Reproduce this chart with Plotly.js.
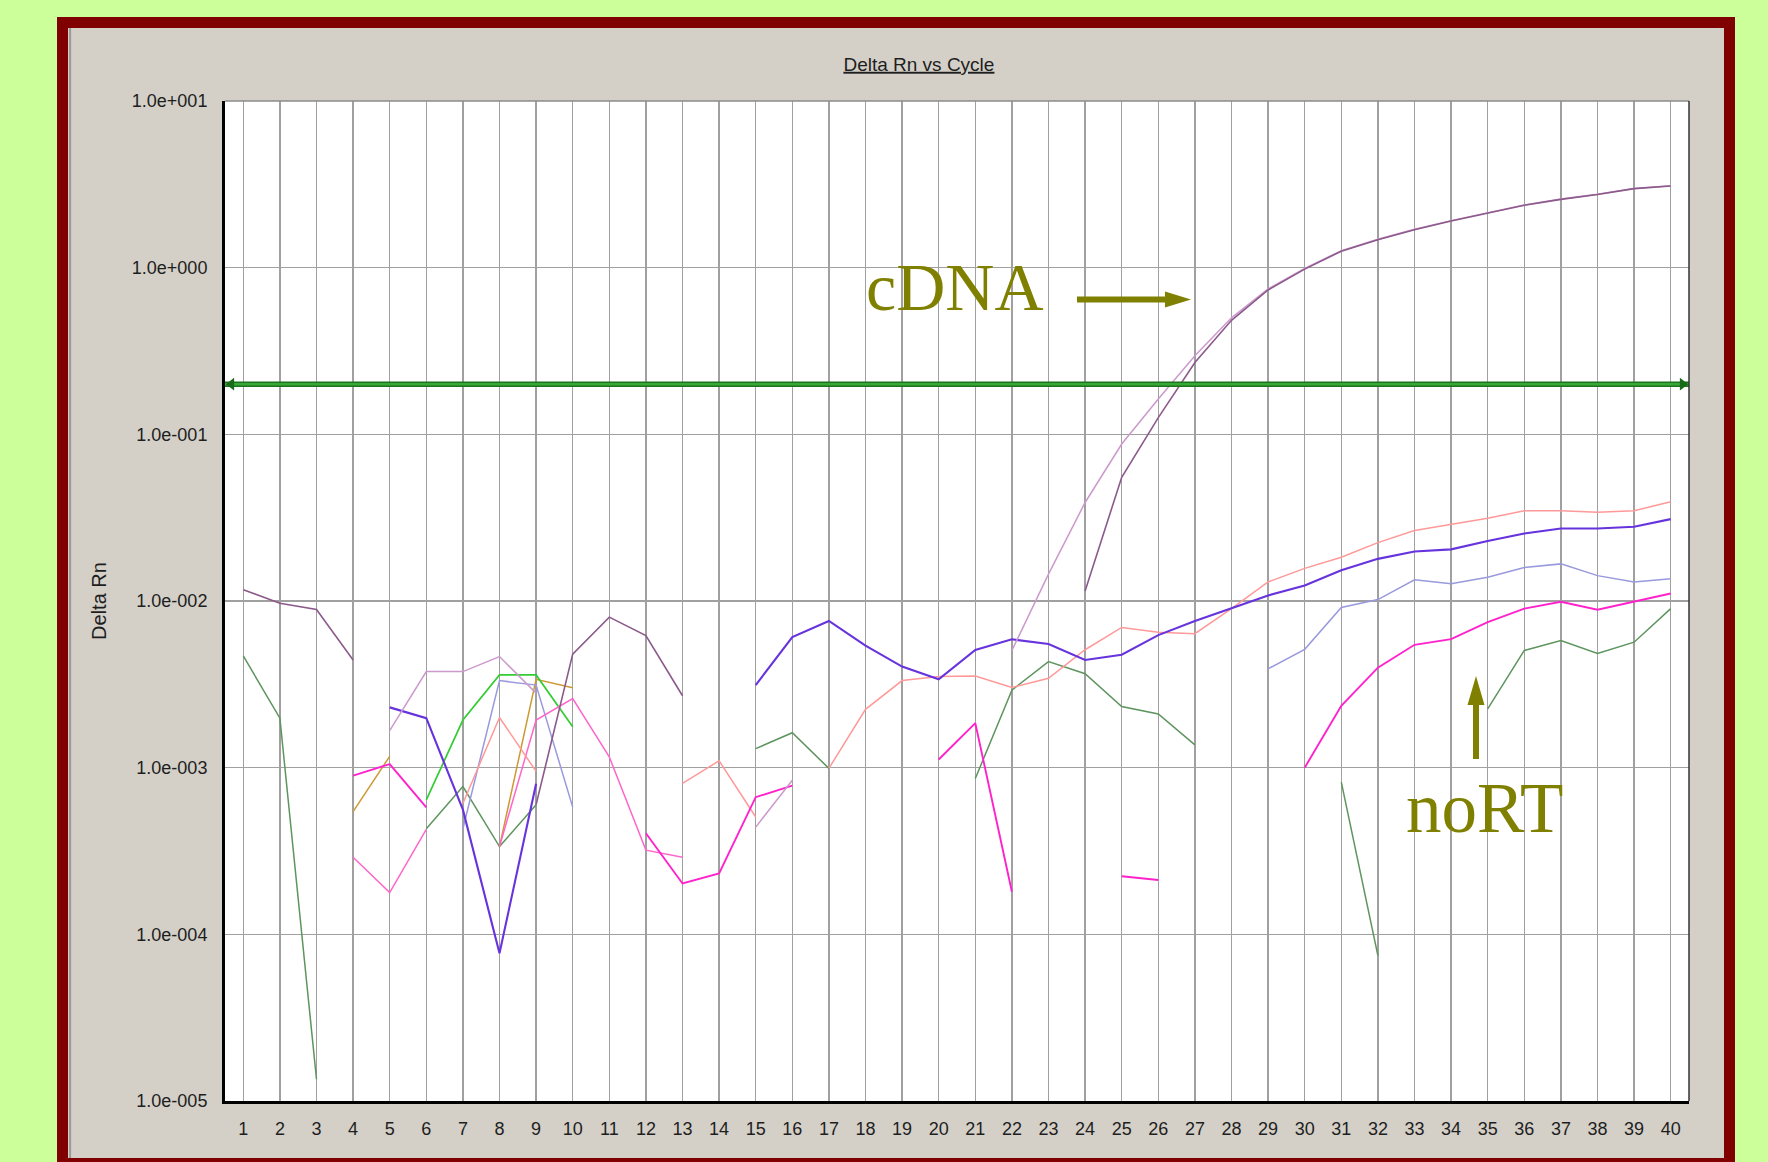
<!DOCTYPE html>
<html><head><meta charset="utf-8">
<script src="https://cdn.plot.ly/plotly-3.0.1.min.js"></script>
<style>html,body{margin:0;padding:0;background:#CCFF99;overflow:hidden;} #chart{width:1768px;height:1162px;}</style>
</head><body><div id="chart"></div>
<script>
// ---- data (Delta Rn per cycle; null = not drawn, e.g. negative on log scale) ----
const cycles = [1,2,3,4,5,6,7,8,9,10,11,12,13,14,15,16,17,18,19,20,
                21,22,23,24,25,26,27,28,29,30,31,32,33,34,35,36,37,38,39,40];

const cdnaDark = [0.0117, 0.0097, 0.0089, 0.00443, null, null, null, null, 0.0006, 0.0048,
  0.008, 0.0062, 0.0027, null, null, null, null, null, null, null,
  null, null, null, 0.0115, 0.0552, 0.126, 0.27, 0.483, 0.735, 0.98,
  1.255, 1.47, 1.69, 1.905, 2.13, 2.37, 2.57, 2.75, 2.98, 3.09];

const cdnaLight = [null, null, null, null, 0.00167, 0.00377, 0.00377, 0.00464, 0.0028, null,
  null, null, null, null, 0.00044, 0.00084, null, null, null, null,
  null, 0.00505, 0.0145, 0.039, 0.0875, 0.163, 0.296, 0.50, 0.745, 0.99,
  1.265, 1.48, 1.70, 1.915, 2.14, 2.38, 2.585, 2.76, 2.99, 3.105];

const blueViolet = [null, null, null, null, 0.0023, 0.00198, 0.00056, 0.000077, 0.0008, null,
  null, null, null, null, 0.00313, 0.00607, 0.00759, 0.0054, 0.00404, 0.00339,
  0.00508, 0.00589, 0.00552, 0.00443, 0.00476, 0.00624, 0.00758, 0.009, 0.0108, 0.0124,
  0.0153, 0.0179, 0.0198, 0.0204, 0.0229, 0.0254, 0.0272, 0.0272, 0.0279, 0.031];

const salmon = [null, null, null, null, null, null, 0.00061, 0.002, 0.00095, null,
  null, null, 0.000805, 0.0011, 0.000506, null, 0.00099, 0.00224, 0.00333, 0.00352,
  0.00355, 0.00303, 0.00344, 0.0051, 0.00694, 0.0065, 0.00637, 0.009, 0.013, 0.0157,
  0.0183, 0.0224, 0.0265, 0.0287, 0.0314, 0.0348, 0.0348, 0.0341, 0.0348, 0.0394];

const darkGreen = [0.00468, 0.00198, 0.0000135, null, null, 0.00043, 0.00077, 0.000336, 0.0006, null,
  null, null, null, null, 0.0013, 0.00162, 0.00099, null, null, null,
  0.00086, 0.00292, 0.00433, 0.00366, 0.00233, 0.0021, 0.00137, null, null, null,
  0.00082, 0.0000745, null, null, 0.00225, 0.00505, 0.0058, 0.00485, 0.00566, 0.009];

const brightGreen = [null, null, null, null, null, 0.00064, 0.00193, 0.0036, 0.0036, 0.00176,
  null, null, null, null, null, null, null, null, null, null,
  null, null, null, null, null, null, null, null, null, null,
  null, null, null, null, null, null, null, null, null, null];

const lavender = [null, null, null, null, null, null, 0.00043, 0.00333, 0.00313, 0.00058,
  null, null, null, null, null, null, null, null, null, null,
  null, null, null, null, null, null, null, null, 0.00392, 0.00513,
  0.00914, 0.0102, 0.0134, 0.0127, 0.0139, 0.0159, 0.0167, 0.0142, 0.013, 0.0136];

const gold = [null, null, null, 0.000545, 0.00117, null, null, 0.000336, 0.00339, 0.00302,
  null, null, null, null, null, null, null, null, null, null,
  null, null, null, null, null, null, null, null, null, null,
  null, null, null, null, null, null, null, null, null, null];

const magenta = [null, null, null, 0.000895, 0.00105, 0.000578, null, null, null, null,
  null, 0.000404, 0.000202, 0.000232, 0.000665, 0.00078, null, null, null, 0.00112,
  0.00185, 0.00018, null, null, 0.000223, 0.000212, null, null, null, 0.001,
  0.00235, 0.00398, 0.00546, 0.0059, 0.00748, 0.009, 0.0099, 0.00886, 0.0099, 0.0111];

const pink = [null, null, null, 0.00029, 0.000178, 0.000427, null, 0.000336, 0.00193, 0.0026,
  0.00116, 0.00032, 0.00029, null, null, null, null, null, null, null,
  null, null, null, null, null, null, null, null, null, null,
  null, null, null, null, null, null, null, null, null, null];

const threshold = 0.2;
const yTickVals = [1e-5, 1e-4, 1e-3, 1e-2, 1e-1, 1e0, 1e1];
const yTickText = ["1.0e-005", "1.0e-004", "1.0e-003", "1.0e-002", "1.0e-001", "1.0e+000", "1.0e+001"];
const xRange = [0.5, 40.5];

// ---- traces ----
function series(name, y, color, width) {
  return {x: cycles, y: y, name: name, type: 'scatter', mode: 'lines',
          line: {color: color, width: width}, connectgaps: false, hoverinfo: 'skip'};
}
const traces = [
  series('dark green', darkGreen, '#5E945E', 1.5),
  series('gold', gold, '#CC9933', 1.5),
  series('green', brightGreen, '#33CC33', 1.7),
  series('lavender', lavender, '#9999DD', 1.5),
  series('pink', pink, '#FF66CC', 1.5),
  series('salmon', salmon, '#FF9999', 1.5),
  series('magenta', magenta, '#FF22CC', 1.9),
  series('blue', blueViolet, '#6633DD', 2.1),
  series('cDNA 2', cdnaLight, '#CC99CC', 1.5),
  series('cDNA 1', cdnaDark, '#8B5A8B', 1.6),
  {x: xRange, y: [threshold, threshold], type: 'scatter', mode: 'lines',
   line: {color: '#1E741E', width: 5.5}, hoverinfo: 'skip', cliponaxis: false},
  {x: xRange, y: [threshold, threshold], type: 'scatter', mode: 'lines',
   line: {color: '#36A836', width: 2.5}, hoverinfo: 'skip', cliponaxis: false},
  {x: [xRange[0] + 0.1735, xRange[1] - 0.1735], y: [threshold, threshold], type: 'scatter', mode: 'markers',
   marker: {symbol: ['triangle-left', 'triangle-right'], size: 11, color: '#1A6A1A', line: {width: 0}},
   hoverinfo: 'skip', cliponaxis: false}
];

// ---- frame / decorations (paper coords relative to plot area) ----
const olive = '#808000';
const shapes = [
  {type: 'rect', xref: 'paper', yref: 'paper', x0: -0.11475, x1: 1.03142, y0: -0.2, y1: 1.084,
   fillcolor: '#800000', line: {width: 0}, layer: 'below'},
  {type: 'rect', xref: 'paper', yref: 'paper', x0: -0.10724, x1: 1.02391, y0: -0.057, y1: 1.073,
   fillcolor: '#D4D0C8', line: {width: 0}, layer: 'below'},
  {type: 'line', xref: 'paper', yref: 'paper', x0: -0.1058, x1: -0.1058, y0: -0.057, y1: 1.073,
   line: {color: '#9A9A9A', width: 2}, layer: 'below'},
  {type: 'rect', xref: 'paper', yref: 'paper', x0: 0, x1: 1, y0: 0, y1: 1,
   fillcolor: '#FFFFFF', line: {width: 0}, layer: 'below'},
  {type: 'line', xref: 'paper', yref: 'paper', x0: 0, x1: 1, y0: 1, y1: 1,
   line: {color: '#8C8C8C', width: 1.5}, layer: 'above'},
  {type: 'line', xref: 'paper', yref: 'paper', x0: 1, x1: 1, y0: 0, y1: 1,
   line: {color: '#333333', width: 1.5}, layer: 'above'},
  // cDNA arrow
  {type: 'line', xref: 'paper', yref: 'paper', x0: 0.58197, x1: 0.64344, y0: 0.8015, y1: 0.8015,
   line: {color: olive, width: 6}, layer: 'above'},
  {type: 'path', xref: 'paper', yref: 'paper', path: 'M0.64208,0.8095 L0.65984,0.8015 L0.64208,0.7935 Z',
   fillcolor: olive, line: {width: 0}, layer: 'above'},
  // noRT arrow
  {type: 'line', xref: 'paper', yref: 'paper', x0: 0.85451, x1: 0.85451, y0: 0.342, y1: 0.398,
   line: {color: olive, width: 6}, layer: 'above'},
  {type: 'path', xref: 'paper', yref: 'paper', path: 'M0.84870,0.396 L0.85451,0.425 L0.86031,0.396 Z',
   fillcolor: olive, line: {width: 0}, layer: 'above'}
];

const annotations = [
  {text: 'cDNA', xref: 'paper', yref: 'paper', x: 0.4986, y: 0.814, xanchor: 'center', yanchor: 'middle',
   showarrow: false, font: {family: 'Liberation Serif, Times New Roman, serif', size: 68, color: olive}},
  {text: 'noRT', xref: 'paper', yref: 'paper', x: 0.8605, y: 0.293, xanchor: 'center', yanchor: 'middle',
   showarrow: false, font: {family: 'Liberation Serif, Times New Roman, serif', size: 71, color: olive}}
];

const sans = 'Liberation Sans, Arial, sans-serif';
const layout = {
  width: 1768, height: 1162,
  margin: {l: 225, r: 79, t: 101, b: 61, pad: 0},
  paper_bgcolor: '#CCFF99',
  plot_bgcolor: '#FFFFFF',
  showlegend: false,
  hovermode: false,
  title: {text: '<u>Delta Rn vs Cycle</u>', x: 0.474, xref: 'paper', xanchor: 'center',
          y: 0.9448, yref: 'container', yanchor: 'middle',
          font: {family: sans, size: 19, color: '#1E1E1E'}},
  xaxis: {range: xRange, tickmode: 'array', tickvals: cycles, ticktext: cycles.map(String),
          showgrid: true, gridcolor: '#A0A0A0', gridwidth: 1.3, zeroline: false,
          showline: true, linecolor: '#000000', linewidth: 3, ticks: '',
          ticklabelstandoff: 9,
          tickfont: {family: sans, size: 18, color: '#1E1E1E'}, fixedrange: true},
  yaxis: {type: 'log', range: [-5, 1], tickmode: 'array', tickvals: yTickVals, ticktext: yTickText,
          showgrid: true, gridcolor: '#A0A0A0', gridwidth: 1.3, zeroline: false,
          showline: true, linecolor: '#000000', linewidth: 3, ticks: '',
          ticklabelstandoff: 11,
          tickfont: {family: sans, size: 18, color: '#1E1E1E'}, fixedrange: true,
          title: {text: 'Delta Rn', standoff: 20, font: {family: sans, size: 20, color: '#1E1E1E'}}},
  shapes: shapes,
  annotations: annotations
};

Plotly.newPlot('chart', traces, layout, {displayModeBar: false, staticPlot: true});
</script></body></html>
